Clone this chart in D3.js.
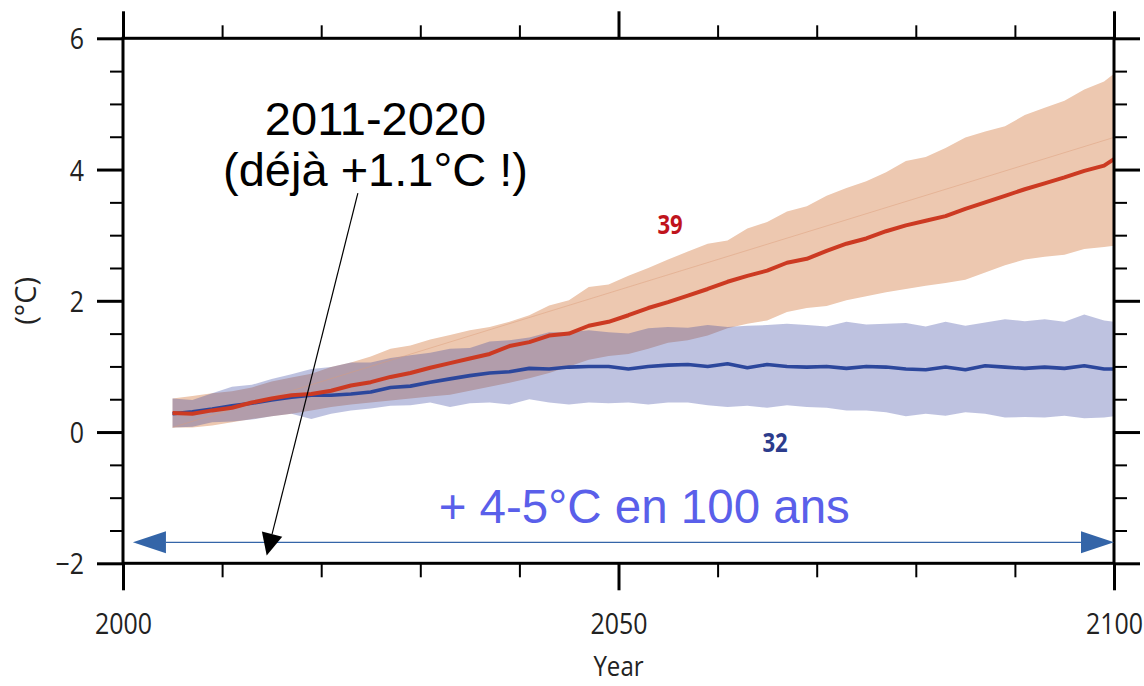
<!DOCTYPE html>
<html>
<head>
<meta charset="utf-8">
<script src="https://cdn.jsdelivr.net/npm/d3@7"></script>
<style>
  body { margin: 0; background: #ffffff; }
  svg { display: block; }
</style>
</head>
<body>
<svg id="chart" width="1144" height="686"></svg>
<script>
// Projection years (every second year, then the final year)
const years = [2005, 2007, 2009, 2011, 2013, 2015, 2017, 2019, 2021, 2023,
               2025, 2027, 2029, 2031, 2033, 2035, 2037, 2039, 2041, 2043,
               2045, 2047, 2049, 2051, 2053, 2055, 2057, 2059, 2061, 2063,
               2065, 2067, 2069, 2071, 2073, 2075, 2077, 2079, 2081, 2083,
               2085, 2087, 2089, 2091, 2093, 2095, 2097, 2099, 2100];

// High-emission scenario (39 models): multi-model mean and spread
const highMean  = [0.29, 0.28, 0.33, 0.37, 0.45, 0.51, 0.56, 0.58, 0.63, 0.71,
                   0.76, 0.84, 0.90, 0.98, 1.05, 1.12, 1.19, 1.31, 1.37, 1.47,
                   1.50, 1.62, 1.68, 1.78, 1.89, 1.98, 2.08, 2.18, 2.29, 2.38,
                   2.46, 2.58, 2.64, 2.76, 2.87, 2.95, 3.06, 3.15, 3.22, 3.29,
                   3.40, 3.50, 3.60, 3.70, 3.79, 3.88, 3.98, 4.06, 4.16];
const highUpper = [0.51, 0.55, 0.59, 0.62, 0.68, 0.77, 0.83, 0.89, 0.99, 1.06,
                   1.15, 1.27, 1.32, 1.41, 1.48, 1.55, 1.60, 1.68, 1.78, 1.93,
                   2.01, 2.21, 2.25, 2.38, 2.50, 2.63, 2.75, 2.87, 2.92, 3.10,
                   3.20, 3.36, 3.44, 3.60, 3.72, 3.82, 3.96, 4.13, 4.19, 4.33,
                   4.49, 4.58, 4.66, 4.83, 4.94, 5.05, 5.22, 5.34, 5.46];
const highLower = [0.07, 0.07, 0.10, 0.15, 0.20, 0.24, 0.28, 0.33, 0.38, 0.42,
                   0.45, 0.48, 0.51, 0.54, 0.57, 0.63, 0.69, 0.75, 0.82, 0.90,
                   1.00, 1.10, 1.16, 1.19, 1.27, 1.36, 1.40, 1.47, 1.58, 1.65,
                   1.70, 1.83, 1.89, 1.92, 2.01, 2.07, 2.13, 2.18, 2.23, 2.27,
                   2.32, 2.43, 2.54, 2.63, 2.67, 2.70, 2.79, 2.82, 2.84];

// Low-emission scenario (32 models): multi-model mean and spread
const lowMean   = [0.28, 0.31, 0.35, 0.40, 0.44, 0.49, 0.53, 0.56, 0.56, 0.58,
                   0.61, 0.68, 0.70, 0.76, 0.81, 0.86, 0.90, 0.92, 0.97, 0.96,
                   0.99, 1.00, 1.00, 0.96, 1.00, 1.02, 1.03, 1.00, 1.04, 0.98,
                   1.03, 1.00, 0.99, 1.00, 0.97, 1.00, 0.99, 0.96, 0.95, 0.99,
                   0.95, 1.01, 0.99, 0.97, 0.99, 0.97, 1.01, 0.96, 0.96];
const lowUpper  = [0.51, 0.49, 0.59, 0.69, 0.72, 0.81, 0.88, 0.96, 0.99, 1.06,
                   1.06, 1.13, 1.17, 1.21, 1.27, 1.28, 1.38, 1.40, 1.44, 1.52,
                   1.52, 1.55, 1.52, 1.50, 1.58, 1.60, 1.59, 1.63, 1.60, 1.62,
                   1.63, 1.65, 1.63, 1.61, 1.68, 1.64, 1.65, 1.66, 1.61, 1.68,
                   1.62, 1.67, 1.72, 1.69, 1.72, 1.68, 1.79, 1.70, 1.68];
const lowLower  = [0.07, 0.08, 0.15, 0.16, 0.19, 0.24, 0.28, 0.20, 0.28, 0.33,
                   0.36, 0.40, 0.41, 0.45, 0.38, 0.44, 0.45, 0.42, 0.50, 0.45,
                   0.42, 0.45, 0.44, 0.45, 0.42, 0.45, 0.45, 0.41, 0.38, 0.40,
                   0.37, 0.41, 0.38, 0.37, 0.33, 0.33, 0.30, 0.24, 0.28, 0.25,
                   0.30, 0.28, 0.22, 0.23, 0.22, 0.25, 0.21, 0.22, 0.24];

// Faint straight reference line inside the high-emission band
const trendYears  = [2005, 2100];
const trendValues = [0.07, 4.49];

// Axis ticks
const xMajorTicks = [2000, 2050, 2100];
const xMinorTicks = [2010, 2020, 2030, 2040, 2060, 2070, 2080, 2090];
const yMajorTicks = [-2, 0, 2, 4, 6];
const yMinorTicks = [-1.5, -1, -0.5, 0.5, 1, 1.5, 2.5, 3, 3.5, 4.5, 5, 5.5];

// Annotations
const spanYears = [2001, 2100];   // horizontal double arrow
const spanLevel = -1.68;
const pointerFrom = [2023.7, 3.64]; // pointer to the 2011-2020 decade
const pointerTo   = [2014.5, -1.88];
const modelCounts = [{ text: "39", year: 2055.2, value: 3.17, color: "#c0141c" },
                     { text: "32", year: 2065.8, value: -0.15, color: "#2c3c8c" }];

const svg = d3.select("#chart");
const margin = { left: 123, right: 30, top: 38.3, bottom: 122.7 };
const W = 1144, H = 686;

const x = d3.scaleLinear().domain([2000, 2100]).range([margin.left, W - margin.right]);
const y = d3.scaleLinear().domain([-2, 6]).range([H - margin.bottom, margin.top]);

const labelFont = "'Open Sans', 'DejaVu Sans', sans-serif";
const textFont = "'Liberation Sans', Arial, sans-serif";

// ---- Bands ----
const band = (lo, hi) => d3.area()
  .x((d, i) => x(years[i]))
  .y0((d, i) => y(lo[i]))
  .y1((d, i) => y(hi[i]));

svg.append("path")
  .datum(years)
  .attr("d", band(highLower, highUpper))
  .attr("fill", "#edc8b0");

svg.append("path")
  .datum(years)
  .attr("d", band(lowLower, lowUpper))
  .attr("fill", "#3a46a0")
  .attr("fill-opacity", 0.33);

// Faint reference line
svg.append("path")
  .datum(trendYears)
  .attr("d", d3.line().x((d, i) => x(trendYears[i])).y((d, i) => y(trendValues[i])))
  .attr("fill", "none")
  .attr("stroke", "#dc9c78")
  .attr("stroke-opacity", 0.45)
  .attr("stroke-width", 1);

// ---- Mean lines ----
const meanLine = vals => d3.line()
  .x((d, i) => x(years[i]))
  .y((d, i) => y(vals[i]));

svg.append("path")
  .datum(years)
  .attr("d", meanLine(lowMean))
  .attr("fill", "none")
  .attr("stroke", "#2c479c")
  .attr("stroke-width", 3.6)
  .attr("stroke-linejoin", "round");

svg.append("path")
  .datum(years)
  .attr("d", meanLine(highMean))
  .attr("fill", "none")
  .attr("stroke", "#cc3a22")
  .attr("stroke-width", 4)
  .attr("stroke-linejoin", "round");

// ---- Model-count labels ----
svg.selectAll("text.count")
  .data(modelCounts)
  .join("text")
  .attr("class", "count")
  .attr("transform", d => `translate(${x(d.year)},${y(d.value)}) scale(0.82,1)`)
  .attr("text-anchor", "middle")
  .attr("dy", "0.36em")
  .attr("font-family", labelFont)
  .attr("font-weight", 700)
  .attr("font-size", 27)
  .attr("fill", d => d.color)
  .text(d => d.text);

// ---- Frame and axes ----
svg.append("rect")
  .attr("x", x(2000)).attr("y", y(6))
  .attr("width", x(2100) - x(2000)).attr("height", y(-2) - y(6))
  .attr("fill", "none").attr("stroke", "#000").attr("stroke-width", 3);

function drawAxis(axisGen, transform, width) {
  const g = svg.append("g").attr("transform", transform).call(axisGen);
  g.select(".domain").remove();
  g.selectAll(".tick line").attr("stroke", "#000").attr("stroke-width", width);
  return g;
}

// Minor ticks on all four sides
drawAxis(d3.axisBottom(x).tickValues(xMinorTicks).tickSize(14).tickFormat(""), `translate(0,${y(-2)})`, 2);
drawAxis(d3.axisTop(x).tickValues(xMinorTicks).tickSize(13).tickFormat(""), `translate(0,${y(6)})`, 2);
drawAxis(d3.axisLeft(y).tickValues(yMinorTicks).tickSize(13).tickFormat(""), `translate(${x(2000)},0)`, 2);
drawAxis(d3.axisRight(y).tickValues(yMinorTicks).tickSize(13).tickFormat(""), `translate(${x(2100)},0)`, 2);

// Major ticks
const gxb = drawAxis(d3.axisBottom(x).tickValues(xMajorTicks).tickSize(27).tickFormat(d3.format("d")),
                     `translate(0,${y(-2)})`, 3);
drawAxis(d3.axisTop(x).tickValues(xMajorTicks).tickSize(27).tickFormat(""), `translate(0,${y(6)})`, 3);
const gyl = drawAxis(d3.axisLeft(y).tickValues(yMajorTicks).tickSize(26).tickFormat(d => d < 0 ? "\u2212" + Math.abs(d) : d),
                     `translate(${x(2000)},0)`, 3);
drawAxis(d3.axisRight(y).tickValues(yMajorTicks).tickSize(26).tickFormat(""), `translate(${x(2100)},0)`, 3);

gxb.selectAll(".tick text")
  .attr("y", null).attr("dy", null)
  .attr("transform", "translate(0,71) scale(0.86,1)")
  .attr("text-anchor", "middle")
  .attr("font-family", labelFont)
  .attr("font-size", 29)
  .attr("fill", "#222");

gyl.selectAll(".tick text")
  .attr("x", null).attr("dy", "0.36em")
  .attr("transform", "translate(-39,0) scale(0.86,1)")
  .attr("text-anchor", "end")
  .attr("font-family", labelFont)
  .attr("font-size", 29)
  .attr("fill", "#222");

// Axis titles
svg.append("text")
  .attr("transform", `translate(${x(2050)},676) scale(0.86,1)`)
  .attr("text-anchor", "middle")
  .attr("font-family", labelFont)
  .attr("font-size", 28)
  .attr("fill", "#222")
  .text("Year");

svg.append("text")
  .attr("transform", `translate(36,${y(2)}) rotate(-90)`)
  .attr("text-anchor", "middle")
  .attr("font-family", labelFont)
  .attr("font-size", 29)
  .attr("fill", "#222")
  .text("(°C)");

// ---- Horizontal double arrow ----
const ax0 = x(spanYears[0]), ax1 = x(spanYears[1]), ay = y(spanLevel);
const headLen = 33, headHalf = 11;
svg.append("line")
  .attr("x1", ax0 + headLen).attr("x2", ax1 - headLen)
  .attr("y1", ay).attr("y2", ay)
  .attr("stroke", "#3465a8").attr("stroke-width", 1.2);
svg.append("path")
  .attr("d", `M${ax0},${ay} L${ax0 + headLen},${ay - headHalf} L${ax0 + headLen},${ay + headHalf} Z`)
  .attr("fill", "#3465a8");
svg.append("path")
  .attr("d", `M${ax1},${ay} L${ax1 - headLen},${ay - headHalf} L${ax1 - headLen},${ay + headHalf} Z`)
  .attr("fill", "#3465a8");

svg.append("text")
  .attr("x", x(2052.6)).attr("y", 523)
  .attr("text-anchor", "middle")
  .attr("font-family", textFont)
  .attr("font-size", 47.5)
  .attr("fill", "#5a5fea")
  .text("+ 4-5°C en 100 ans");

// ---- Decade annotation with pointer ----
svg.append("text")
  .attr("x", 375.5).attr("y", 135)
  .attr("text-anchor", "middle")
  .attr("font-family", textFont)
  .attr("font-size", 47)
  .attr("fill", "#000")
  .text("2011-2020");
svg.append("text")
  .attr("x", 375.5).attr("y", 186)
  .attr("text-anchor", "middle")
  .attr("font-family", textFont)
  .attr("font-size", 47)
  .attr("fill", "#000")
  .text("(déjà +1.1°C !)");

const px0 = x(pointerFrom[0]), py0 = y(pointerFrom[1]);
const px1 = x(pointerTo[0]), py1 = y(pointerTo[1]);
const len = Math.hypot(px1 - px0, py1 - py0);
const ux = (px1 - px0) / len, uy = (py1 - py0) / len;
const pl = 22, pw = 10.5;
const bx = px1 - ux * pl, by = py1 - uy * pl;
svg.append("line")
  .attr("x1", px0).attr("y1", py0).attr("x2", bx).attr("y2", by)
  .attr("stroke", "#000").attr("stroke-width", 1.2);
svg.append("path")
  .attr("d", `M${px1},${py1} L${bx - uy * pw},${by + ux * pw} L${bx + uy * pw},${by - ux * pw} Z`)
  .attr("fill", "#000");
</script>
</body>
</html>
